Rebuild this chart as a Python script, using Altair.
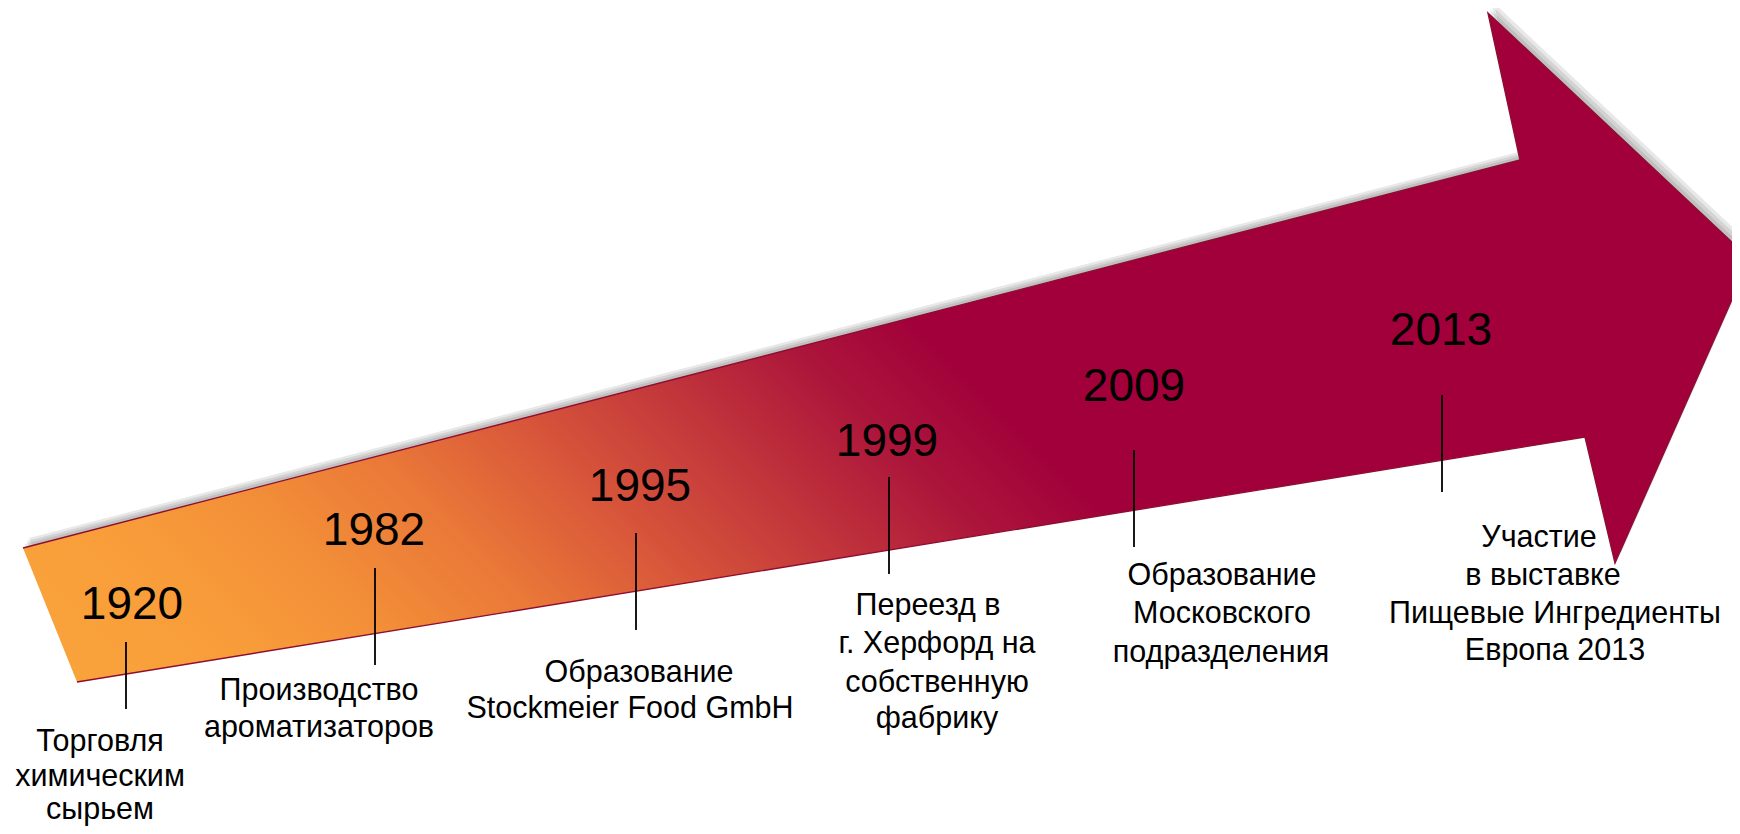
import altair as alt

# ---- arrow outline (page pixel coordinates) ----
arrow_x = [23, 1520, 1488, 1750, 1615, 1585, 77]
arrow_y = [548, 160, 13, 259, 563, 437, 682]

# ---- timeline events ----
years = ["1920", "1982", "1995", "1999", "2009", "2013"]
year_x = [132, 374, 640, 887, 1134, 1441]
year_y = [619, 545, 501, 456, 401, 345]

tick_x = [126, 375, 636, 889, 1134, 1442]
tick_top = [642, 568, 533, 477, 450, 395]
tick_bottom = [709, 665, 630, 574, 547, 492]

desc_lines = [
    "Торговля", "химическим", "сырьем",
    "Производство", "ароматизаторов",
    "Образование", "Stockmeier Food GmbH",
    "Переезд в", "г. Херфорд на", "собственную", "фабрику",
    "Образование", "Московского", "подразделения",
    "Участие", "в выставке", "Пищевые Ингредиенты", "Европа 2013",
]
desc_x = [100, 100, 100,
          319, 319,
          639, 630,
          928, 937, 937, 937,
          1222, 1222, 1221,
          1539, 1543, 1555, 1555]
desc_y = [751, 786, 819,
          700, 737,
          682, 718,
          615, 653, 692, 728,
          585, 623, 662,
          547, 585, 623, 660]

FONT = "Liberation Sans"
proj = dict(type="identity", scale=1, translate=[-8, -8])


def polygon(dx=0, dy=0):
    ring = [[x + dx, y + dy] for x, y in zip(arrow_x, arrow_y)]
    ring.append(ring[0])
    return {"type": "Feature", "properties": {},
            "geometry": {"type": "Polygon", "coordinates": [ring]}}


# soft shadow (offset copies)
shadow_layers = []
for dx, dy in [(2, -4), (4, -7), (6, -10)]:
    shadow_layers.append(
        alt.Chart(alt.Data(values=[polygon(dx, dy)]))
        .mark_geoshape(fill="#000000", fillOpacity=0.09, strokeWidth=0)
        .project(**proj)
    )

grad = alt.Gradient(
    gradient="linear",
    stops=[
        alt.GradientStop(color="#F9A33B", offset=0.0),
        alt.GradientStop(color="#F89C3A", offset=0.17),
        alt.GradientStop(color="#F28E38", offset=0.30),
        alt.GradientStop(color="#EA7838", offset=0.44),
        alt.GradientStop(color="#D8563A", offset=0.585),
        alt.GradientStop(color="#BF323B", offset=0.75),
        alt.GradientStop(color="#AC153B", offset=0.875),
        alt.GradientStop(color="#A1003A", offset=1.0),
    ],
    x1=0, y1=0.919, x2=0.6066, y2=0.6839,
)

arrow = (
    alt.Chart(alt.Data(values=[polygon()]))
    .mark_geoshape(fill=grad, strokeWidth=0)
    .project(**proj)
)

edge_coords = [[x, y] for x, y in zip(arrow_x, arrow_y)]
edge = (
    alt.Chart(alt.Data(values=[{"type": "Feature", "properties": {},
                                "geometry": {"type": "LineString",
                                             "coordinates": edge_coords}}]))
    .mark_geoshape(filled=False, stroke="#8E0E30", strokeWidth=1.4)
    .project(**proj)
)

tick_features = [
    {"type": "Feature", "properties": {},
     "geometry": {"type": "LineString", "coordinates": [[x, t], [x, b]]}}
    for x, t, b in zip(tick_x, tick_top, tick_bottom)
]
ticks = (
    alt.Chart(alt.Data(values=tick_features))
    .mark_geoshape(filled=False, stroke="#000000", strokeWidth=1.8)
    .project(**proj)
)

year_data = alt.Data(values=[{"label": l, "x": x, "y": y}
                             for l, x, y in zip(years, year_x, year_y)])
year_text = (
    alt.Chart(year_data)
    .mark_text(font=FONT, fontSize=46, align="center", baseline="alphabetic",
               color="#000000")
    .encode(longitude="x:Q", latitude="y:Q", text="label:N")
    .project(**proj)
)

desc_data = alt.Data(values=[{"label": l, "x": x, "y": y}
                             for l, x, y in zip(desc_lines, desc_x, desc_y)])
desc_text = (
    alt.Chart(desc_data)
    .mark_text(font=FONT, fontSize=30.5, align="center", baseline="alphabetic",
               color="#000000")
    .encode(longitude="x:Q", latitude="y:Q", text="label:N")
    .project(**proj)
)

chart = (
    alt.layer(*shadow_layers, arrow, edge, ticks, year_text, desc_text)
    .properties(width=1724, height=818, padding=0,
                autosize=alt.AutoSizeParams(type="none"),
                background="white")
    .configure_view(strokeOpacity=0)
)

chart.save("out.html", embed_options={"renderer": "svg", "actions": False})
